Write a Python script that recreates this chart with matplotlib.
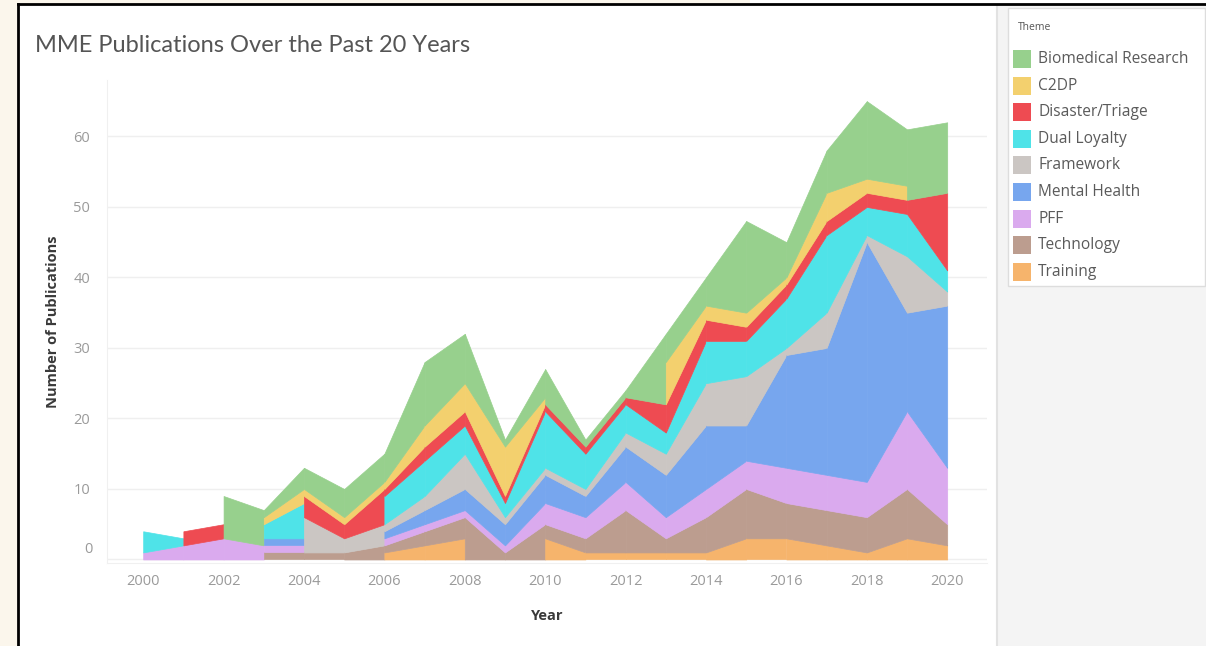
import matplotlib.pyplot as plt
from matplotlib.patches import Rectangle
from matplotlib.lines import Line2D

plt.rcParams['font.family'] = ['Open Sans', 'DejaVu Sans']

years = list(range(2000, 2021))

# legend order (top of stack first)
themes = ["Biomedical Research", "C2DP", "Disaster/Triage", "Dual Loyalty", "Framework",
          "Mental Health", "PFF", "Technology", "Training"]
colors = ["#97D08D", "#F3D06E", "#EE4B52", "#4FE3E8", "#CBC6C3",
          "#77A6EE", "#DAAAEE", "#BC9D8F", "#F6B46C"]

# publications per year, None = no publications that year
N = None
biomedical = [N, N, 4, 1, 3, 4, 4, 9, 7, 1, 4, 1, 1, 4, 4, 13, 5, 6, 11, 8, 10]
c2dp       = [N, N, N, 1, 1, 1, 1, 3, 4, 7, 1, N, N, 6, 2, 2, 1, 4, 2, 2, N]
disaster   = [N, 1, 2, N, 1, 2, 1, 2, 2, 1, 1, 1, 1, 4, 3, 2, 2, 2, 2, 2, 11]
dual       = [3, 1, N, 2, 2, N, 4, 5, 4, 2, 8, 5, 4, 3, 6, 5, 7, 11, 4, 6, 3]
framework  = [N, N, N, N, 3, 2, 1, 2, 5, 1, 1, 1, 2, 3, 6, 7, 1, 5, 1, 8, 2]
mental     = [N, N, N, 1, 1, N, 1, 2, 3, 3, 4, 3, 5, 6, 9, 5, 16, 18, 34, 14, 23]
pff        = [1, 2, 3, 1, 1, N, 1, 1, 1, 1, 3, 3, 4, 3, 4, 4, 5, 5, 5, 11, 8]
technology = [N, N, N, 1, 1, 1, 1, 2, 3, 1, 2, 2, 6, 2, 5, 7, 5, 5, 5, 7, 3]
training   = [N, N, N, N, N, N, 1, 2, 3, N, 3, 1, 1, 1, 1, 3, 3, 2, 1, 3, 2]

series = [biomedical, c2dp, disaster, dual, framework, mental, pff, technology, training]

fig = plt.figure(figsize=(12.06, 6.46), dpi=100)
fig.patch.set_facecolor("white")

# screenshot frame, side panel
fig.patches.append(Rectangle((0, 0), 17 / 1206, 1, transform=fig.transFigure,
                             facecolor="#FBF6EC", edgecolor="none", zorder=0))
fig.patches.append(Rectangle((0, 642 / 646), 750 / 1206, 4 / 646, transform=fig.transFigure,
                             facecolor="#FBF6EC", edgecolor="none", zorder=0))
fig.patches.append(Rectangle((998 / 1206, 0), 208 / 1206, 641 / 646, transform=fig.transFigure,
                             facecolor="#F4F4F4", edgecolor="none", zorder=0))
fig.add_artist(Line2D([997 / 1206, 997 / 1206], [0, 641 / 646], transform=fig.transFigure,
                      color="#E2E2E2", lw=1.5))
fig.add_artist(Line2D([18 / 1206, 18 / 1206], [0, 642 / 646], transform=fig.transFigure,
                      color="black", lw=2))
fig.add_artist(Line2D([18 / 1206, 1], [642 / 646, 642 / 646], transform=fig.transFigure,
                      color="black", lw=2))

ax = fig.add_axes([107 / 1206, 83 / 646, 880 / 1206, 483 / 646])
ax.set_facecolor("none")

# stacking, drawn segment by segment so missing years break the areas
stack = list(zip(series, colors))[::-1]
cum = []
for i in range(len(years)):
    total = 0
    col = []
    for vals, c in stack:
        if vals[i] is None:
            col.append(None)
        else:
            total += vals[i]
            col.append(total)
    cum.append(col)

for i in range(len(years) - 1):
    prev = (0, 0)
    for k, (vals, c) in enumerate(stack):
        if vals[i] is None or vals[i + 1] is None:
            continue
        top = (cum[i][k], cum[i + 1][k])
        ax.fill_between([years[i], years[i + 1]], prev, top, facecolor=c,
                        edgecolor=c, linewidth=0.5, zorder=2)
        prev = top

ax.set_xlim(1999.1, 2020.99)
ax.set_ylim(-0.5, 68)
ax.set_xticks(range(2000, 2021, 2))
yt = list(range(0, 61, 10))
ax.set_yticks(yt)
# tableau lifts the bottom label into the pane
ax.set_yticklabels([""] + [str(v) for v in yt[1:]])
ax.annotate("0", xy=(0, 0), xycoords=("axes fraction", "data"), xytext=(-14, 10),
            textcoords="offset pixels", ha="right", va="center", fontsize=10.5,
            color="#9A9A9A")
ax.grid(axis="y", color="#EFEFEF", lw=1, zorder=0)
for s in ["top", "right"]:
    ax.spines[s].set_visible(False)
ax.spines["left"].set_color("#F0F0F0")
ax.spines["bottom"].set_color("#F0F0F0")
ax.tick_params(length=0, labelsize=10.5, labelcolor="#9A9A9A")
ax.tick_params(axis="y", pad=12)
ax.tick_params(axis="x", pad=8)
ax.set_xlabel("Year", fontsize=10.5, fontweight="bold", color="#3A3A3A", labelpad=14)
ax.set_ylabel("Number of Publications", fontsize=10.5, fontweight="bold", color="#3A3A3A",
              labelpad=10)

fig.text(35 / 1206, 1 - 45 / 646, "MME Publications Over the Past 20 Years",
         fontsize=17, color="#555555", va="center", ha="left", family=["Lato", "DejaVu Sans"])

# legend
fig.patches.append(Rectangle((1008 / 1206, 1 - 286 / 646), 197 / 1206, 278 / 646,
                             transform=fig.transFigure, facecolor="white",
                             edgecolor="#DDDDDD", lw=1, zorder=1))
fig.text(1018 / 1206, 1 - 27 / 646, "Theme", fontsize=7.5, color="#555555",
         va="center", ha="left", zorder=3)
for j, (name, c) in enumerate(zip(themes, colors)):
    yc = 59 + j * 26.6
    fig.patches.append(Rectangle((1013 / 1206, 1 - (yc + 9) / 646), 18 / 1206, 18 / 646,
                                 transform=fig.transFigure, facecolor=c,
                                 edgecolor="none", zorder=2))
    fig.text(1038 / 1206, 1 - yc / 646, name, fontsize=11.2, color="#5A5A5A",
             va="center", ha="left", zorder=3)

fig.savefig("out.png", dpi=100)
